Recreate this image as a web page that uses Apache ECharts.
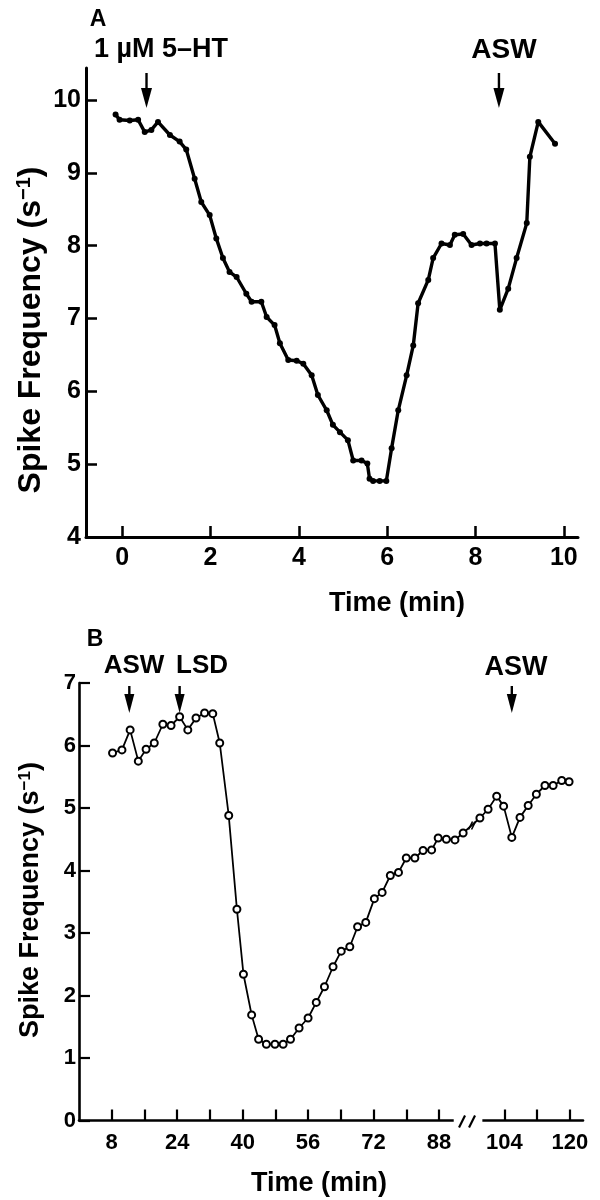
<!DOCTYPE html>
<html><head><meta charset="utf-8">
<script src="https://cdn.jsdelivr.net/npm/echarts@6/dist/echarts.min.js"></script>
<style>html,body{margin:0;padding:0;background:#fff}#c{width:600px;height:1200px}</style>
</head><body><div id="c"></div>
<script>
// ---------- Panel A data (time in min, spike frequency s^-1) ----------
const A_time = [-0.15, -0.06, 0.17, 0.36, 0.51, 0.66, 0.81, 1.08, 1.30, 1.45,
  1.64, 1.79, 1.98, 2.13, 2.28, 2.43, 2.59, 2.81, 2.93, 3.15,
  3.27, 3.45, 3.57, 3.76, 3.95, 4.10, 4.29, 4.43, 4.63, 4.77,
  4.93, 5.11, 5.23, 5.42, 5.55, 5.60, 5.68, 5.83, 5.98, 6.10,
  6.25, 6.44, 6.59, 6.70, 6.93, 7.04, 7.23, 7.42, 7.53, 7.72,
  7.91, 8.10, 8.25, 8.44, 8.55, 8.74, 8.93, 9.16, 9.23, 9.42, 9.80];
const A_rate = [9.80, 9.73, 9.72, 9.73, 9.56, 9.59, 9.70, 9.52, 9.43, 9.32,
  8.92, 8.60, 8.42, 8.10, 7.83, 7.64, 7.57, 7.34, 7.23, 7.23,
  7.02, 6.91, 6.66, 6.43, 6.42, 6.38, 6.22, 5.95, 5.74, 5.54,
  5.44, 5.33, 5.05, 5.05, 5.01, 4.80, 4.77, 4.77, 4.77, 5.22,
  5.74, 6.22, 6.63, 7.21, 7.53, 7.83, 8.03, 8.01, 8.15, 8.16,
  8.01, 8.03, 8.03, 8.03, 7.12, 7.41, 7.83, 8.31, 9.22, 9.70, 9.40];
const A_xTicks = [0, 2, 4, 6, 8, 10];
const A_yTicks = [4, 5, 6, 7, 8, 9, 10];
const A_events = [0.55, 8.53];          // 1 µM 5-HT, ASW
const A_eventLabels = ['1 µM 5–HT', 'ASW'];

// ---------- Panel B data ----------
const B_time = [8.2, 10.5, 12.5, 14.5, 16.4, 18.4, 20.5, 22.5, 24.6, 26.6,
  28.6, 30.7, 32.7, 34.4, 36.6, 38.6, 40.2, 42.2, 43.9, 45.8,
  47.9, 49.9, 51.7, 53.8, 56.0, 58.0, 60.0, 62.1, 64.1, 66.2,
  68.1, 70.1, 72.2, 74.1, 76.1, 78.1, 80.0, 82.1, 84.1, 86.2,
  87.8, 89.8, 91.9, 93.9, 98.0, 100.0, 102.1, 103.8, 105.8, 107.8,
  109.8, 111.8, 113.9, 115.9, 118.0, 119.8];
const B_rate = [5.88, 5.93, 6.25, 5.75, 5.94, 6.04, 6.34, 6.32, 6.46, 6.25,
  6.44, 6.52, 6.51, 6.04, 4.88, 3.38, 2.34, 1.69, 1.30, 1.22,
  1.22, 1.22, 1.30, 1.48, 1.64, 1.89, 2.14, 2.46, 2.71, 2.78,
  3.10, 3.17, 3.55, 3.65, 3.92, 3.97, 4.20, 4.20, 4.32, 4.33,
  4.52, 4.50, 4.49, 4.60, 4.84, 4.98, 5.19, 5.03, 4.53, 4.85,
  5.04, 5.22, 5.36, 5.36, 5.44, 5.42];
const B_xTicks = [8, 16, 24, 32, 40, 48, 56, 64, 72, 80, 88, 104, 112, 120];
const B_xLabels = [8, 24, 40, 56, 72, 88, 104, 120];
const B_yTicks = [0, 1, 2, 3, 4, 5, 6, 7];
const B_events = [12.3, 24.6, 105.8];    // ASW, LSD, ASW
const B_eventLabels = ['ASW', 'LSD', 'ASW'];
const B_axisBreak = [91.6, 98.6];
const B_lineBreak = [93.9, 98.0];

const FF = "'Liberation Sans', Arial, Helvetica, sans-serif";
const chart = echarts.init(document.getElementById('c'), null, {renderer: 'canvas'});

function axisX(grid, min, max, ticks, labels, fs, margin, lw) {
  return {
    gridIndex: grid, type: 'value', min: min, max: max,
    axisLine: {show: true, onZero: false, lineStyle: {color: '#000', width: lw}},
    axisTick: {show: true, inside: true, length: 11, customValues: ticks, lineStyle: {color: '#000', width: lw * 0.85}},
    axisLabel: {customValues: labels, fontSize: fs, fontWeight: 'bold', fontFamily: FF, color: '#000', margin: margin},
    splitLine: {show: false}
  };
}
function axisY(grid, min, max, ticks, fs, margin, lw) {
  return {
    gridIndex: grid, type: 'value', min: min, max: max,
    axisLine: {show: true, onZero: false, lineStyle: {color: '#000', width: lw}},
    axisTick: {show: true, inside: true, length: 11, customValues: ticks, lineStyle: {color: '#000', width: lw * 0.85}},
    axisLabel: {customValues: ticks, fontSize: fs, fontWeight: 'bold', fontFamily: FF, color: '#000', margin: margin},
    splitLine: {show: false}
  };
}
function arrows(grid, events, yRef, yTop, yHead, yTip, half) {
  return {
    type: 'custom', xAxisIndex: grid, yAxisIndex: grid, clip: false, silent: true, z: 6,
    data: events.map(t => [t, yRef]),
    renderItem: function (params, api) {
      const x = api.coord([api.value(0), yRef])[0];
      return {type: 'group', children: [
        {type: 'line', shape: {x1: x, y1: yTop, x2: x, y2: yHead + 2}, style: {stroke: '#000', lineWidth: 2.4}},
        {type: 'polygon', shape: {points: [[x - half, yHead], [x + half, yHead], [x, yTip]]}, style: {fill: '#000'}}
      ]};
    }
  };
}
function txt(text, x, y, fs, extra) {
  return Object.assign({type: 'text', x: x, y: y, silent: true,
    style: {text: text, fontSize: fs, fontWeight: 'bold', fontFamily: FF, fill: '#000',
      align: 'center', verticalAlign: 'middle', textAlign: 'center', textVerticalAlign: 'middle'}}, extra || {});
}
function yTitle(x, y, fs) {
  return {type: 'text', x: x, y: y, rotation: Math.PI / 2, silent: true,
    style: {text: '{a|Spike Frequency (s}{b|−1}{a|)}', fill: '#000',
      align: 'center', verticalAlign: 'middle', textAlign: 'center', textVerticalAlign: 'middle',
      rich: {a: {fontSize: fs, fontWeight: 'bold', fontFamily: FF, fill: '#000'},
             b: {fontSize: Math.round(fs * 0.62), fontWeight: 'bold', fontFamily: FF, fill: '#000', padding: [0, 0, Math.round(fs * 0.45), 0]}}}};
}

const option = {
  animation: false,
  backgroundColor: '#fff',
  grid: [
    {left: 86, top: 68, width: 492, height: 469},
    {left: 79, top: 683, width: 504, height: 437.5}
  ],
  xAxis: [
    axisX(0, -0.82, 10.32, A_xTicks, A_xTicks, 25, 9, 3),
    axisX(1, 0, 123.2, B_xTicks, B_xLabels, 22, 11, 2.6)
  ],
  yAxis: [
    axisY(0, 4, 10.44, A_yTicks, 25, 5, 3),
    axisY(1, 0, 7, B_yTicks, 22, 3, 2.6)
  ],
  series: [
    {type: 'line', xAxisIndex: 0, yAxisIndex: 0, data: A_time.map((t, i) => [t, A_rate[i]]),
     symbol: 'circle', symbolSize: 6, showSymbol: true, silent: true,
     lineStyle: {color: '#000', width: 3.4}, itemStyle: {color: '#000'}},
    {type: 'line', xAxisIndex: 1, yAxisIndex: 1, data: B_time.map((t, i) => [t, B_rate[i]]),
     symbol: 'emptyCircle', symbolSize: 7, showSymbol: true, silent: true,
     lineStyle: {color: '#000', width: 1.8}, itemStyle: {color: '#000', borderColor: '#000', borderWidth: 1.6}},
    arrows(0, A_events, 7, 73, 88, 108, 5.5),
    arrows(1, B_events, 3, 686, 694, 713, 5),
    {type: 'custom', xAxisIndex: 1, yAxisIndex: 1, clip: false, silent: true, z: 7,
     data: [[B_axisBreak[0], 0, B_axisBreak[1]]],
     renderItem: function (params, api) {
       const x1 = api.coord([B_axisBreak[0], 0])[0];
       const x2 = api.coord([B_axisBreak[1], 0])[0];
       const y0 = api.coord([0, 0])[1];
       const xm = (x1 + x2) / 2;
       const i0 = B_time.indexOf(B_lineBreak[0]), i1 = B_time.indexOf(B_lineBreak[1]);
       const p0 = api.coord([B_time[i0], B_rate[i0]]), p1 = api.coord([B_time[i1], B_rate[i1]]);
       const lx = (p0[0] + p1[0]) / 2, ly = (p0[1] + p1[1]) / 2;
       return {type: 'group', children: [
         {type: 'rect', shape: {x: x1, y: y0 - 3, width: x2 - x1, height: 6}, style: {fill: '#fff'}},
         {type: 'line', shape: {x1: xm - 9, y1: y0 + 7, x2: xm - 3, y2: y0 - 5}, style: {stroke: '#000', lineWidth: 2.2}},
         {type: 'line', shape: {x1: xm + 1, y1: y0 + 7, x2: xm + 7, y2: y0 - 5}, style: {stroke: '#000', lineWidth: 2.2}},
         {type: 'line', shape: {x1: lx - 3, y1: ly + 4, x2: lx + 1, y2: ly - 4}, style: {stroke: '#000', lineWidth: 1.6}},
         {type: 'line', shape: {x1: lx, y1: ly + 4, x2: lx + 4, y2: ly - 4}, style: {stroke: '#000', lineWidth: 1.6}}
       ]};
     }}
  ],
  graphic: [
    txt('A', 98, 20, 23),
    txt(A_eventLabels[0], 161, 50, 27),
    txt(A_eventLabels[1], 504, 50, 28),
    txt('Time (min)', 397, 604, 27),
    yTitle(31, 330, 32),
    txt('B', 95, 640, 23),
    txt(B_eventLabels[0], 134, 666, 26),
    txt(B_eventLabels[1], 202, 666, 26),
    txt(B_eventLabels[2], 516, 668, 27),
    txt('Time (min)', 319, 1184, 27),
    yTitle(31, 900, 27)
  ]
};
chart.setOption(option);
</script>
</body></html>
